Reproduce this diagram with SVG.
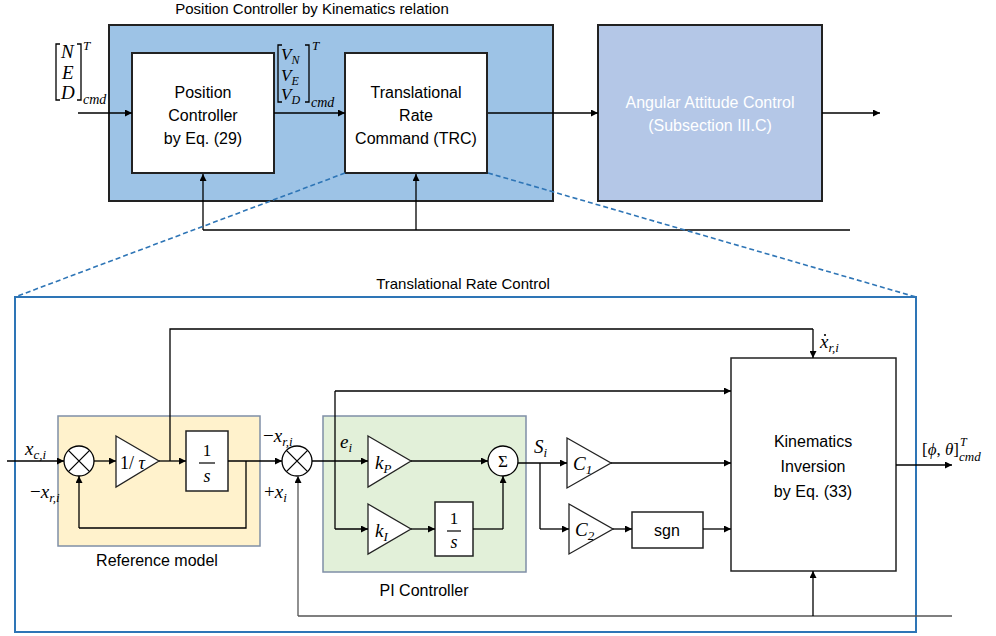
<svg xmlns="http://www.w3.org/2000/svg" width="996" height="636" viewBox="0 0 996 636">
<defs>
<marker id="ah" viewBox="0 0 10 10" refX="10" refY="5" markerWidth="7" markerHeight="7" markerUnits="userSpaceOnUse" orient="auto">
<path d="M0,0 L10,5 L0,10 z" fill="#000"/>
</marker>
</defs>
<style>
.lbl{font-family:"Liberation Sans",Arial,sans-serif;font-size:15px;fill:#000;text-anchor:middle}
.box{font-family:"Liberation Sans",Arial,sans-serif;font-size:16px;fill:#000;text-anchor:middle}
.m{font-family:"Liberation Serif","DejaVu Serif",serif;font-style:italic;font-size:19px;fill:#000}
.sub{font-size:13px}
.up{font-style:normal}
.ln{fill:none;stroke:#000;stroke-width:1.3}
.arr{fill:none;stroke:#000;stroke-width:1.3;marker-end:url(#ah)}
.blk{fill:#fff;stroke:#222;stroke-width:1.5}
.dash{fill:none;stroke:#2E75B6;stroke-width:1.6;stroke-dasharray:5,3}
</style>
<rect width="996" height="636" fill="#fff"/>

<!-- Top section -->
<text class="lbl" x="312" y="14">Position Controller by Kinematics relation</text>
<g id="outer-position">
<rect x="109" y="25" width="444" height="176" fill="#9DC3E6" stroke="#222" stroke-width="2"/>
</g>
<g id="position-controller">
<rect x="132" y="53" width="142" height="120" fill="#fff" stroke="#222" stroke-width="2"/>
<text class="box" x="203" y="98">Position</text>
<text class="box" x="203" y="121">Controller</text>
<text class="box" x="203" y="144">by Eq. (29)</text>
</g>
<g id="trc">
<rect x="345" y="53" width="142" height="120" fill="#fff" stroke="#222" stroke-width="2"/>
<text class="box" x="416" y="98">Translational</text>
<text class="box" x="416" y="121">Rate</text>
<text class="box" x="416" y="144">Command (TRC)</text>
</g>
<g id="angular">
<rect x="598" y="25" width="224" height="176" fill="#B4C7E7" stroke="#222" stroke-width="2"/>
<text class="box" x="710" y="108" style="fill:#fff">Angular Attitude Control</text>
<text class="box" x="710" y="131" style="fill:#fff">(Subsection III.C)</text>
</g>

<!-- matrices -->
<g id="ned-label">
<path class="ln" d="M60,44 H56 V100 H60 M77,44 H81 V100 H77"/>
<text class="m" x="61" y="58">N</text>
<text class="m" x="62" y="79">E</text>
<text class="m" x="61" y="99">D</text>
<text class="m sub" x="83" y="50">T</text>
<text class="m" x="83" y="104" style="font-size:14px">cmd</text>
</g>
<g id="v-label">
<path class="ln" d="M282,45 H278 V102 H282 M305,45 H309 V102 H305"/>
<text class="m" x="281" y="60" style="font-size:17px">V<tspan dy="4" style="font-size:12px">N</tspan></text>
<text class="m" x="281" y="81" style="font-size:17px">V<tspan dy="4" style="font-size:12px">E</tspan></text>
<text class="m" x="281" y="100" style="font-size:17px">V<tspan dy="4" style="font-size:12px">D</tspan></text>
<text class="m sub" x="312" y="50">T</text>
<text class="m" x="311" y="107" style="font-size:14px">cmd</text>
</g>

<!-- Bottom section frame -->
<text class="lbl" x="463" y="289">Translational Rate Control</text>
<g id="trc-detail">
<rect x="15" y="297" width="901" height="335" fill="none" stroke="#2E75B6" stroke-width="2"/>
</g>
<g id="reference-model">
<rect x="58" y="416" width="202" height="130" fill="#FFF2CC" stroke="#7F8FA6" stroke-width="1.5"/>
<text class="box" x="157" y="566">Reference model</text>
</g>
<g id="pi-controller">
<rect x="323" y="416" width="203" height="156" fill="#E2F0D9" stroke="#7F8FA6" stroke-width="1.5"/>
<text class="box" x="424" y="596">PI Controller</text>
</g>

<g id="sum1">
<circle cx="79" cy="461" r="15" fill="#fff" stroke="#000" stroke-width="1.3"/>
<path class="ln" d="M68.4,450.4 L89.6,471.6 M89.6,450.4 L68.4,471.6"/>
</g>
<g id="gain-tau">
<polygon points="116,436 159,461 116,487" fill="#fff" stroke="#222" stroke-width="1.3"/>
<text class="m up" x="120" y="469" style="font-size:18px">1/ <tspan style="font-style:italic">τ</tspan></text>
</g>
<g id="integrator1">
<rect class="blk" x="186" y="431" width="42" height="60"/>
<text class="m up" x="207" y="456" text-anchor="middle" style="font-size:17px">1</text>
<line x1="199" y1="463" x2="215" y2="463" stroke="#000" stroke-width="1.2"/>
<text class="m" x="207" y="482" text-anchor="middle" style="font-size:18px">s</text>
</g>
<g id="sum2">
<circle cx="297" cy="461" r="15" fill="#fff" stroke="#000" stroke-width="1.3"/>
<path class="ln" d="M286.4,450.4 L307.6,471.6 M307.6,450.4 L286.4,471.6"/>
</g>
<g id="gain-kp">
<polygon points="368,436 411,461 368,487" fill="#fff" stroke="#222" stroke-width="1.3"/>
<text class="m" x="375" y="469">k<tspan dy="4" style="font-size:13px">P</tspan></text>
</g>
<g id="gain-ki">
<polygon points="368,504 411,529 368,554" fill="#fff" stroke="#222" stroke-width="1.3"/>
<text class="m" x="375" y="537">k<tspan dy="4" style="font-size:13px">I</tspan></text>
</g>
<g id="integrator2">
<rect class="blk" x="435" y="502" width="38" height="54"/>
<text class="m up" x="454" y="524" text-anchor="middle" style="font-size:17px">1</text>
<line x1="447" y1="531" x2="461" y2="531" stroke="#000" stroke-width="1.2"/>
<text class="m" x="454" y="548" text-anchor="middle" style="font-size:18px">s</text>
</g>
<g id="sigma">
<circle cx="503" cy="461" r="15" fill="#fff" stroke="#000" stroke-width="1.3"/>
<text class="m up" x="503" y="467" text-anchor="middle" style="font-size:17px">Σ</text>
</g>
<g id="gain-c1">
<polygon points="567,438 611,463 567,488" fill="#fff" stroke="#222" stroke-width="1.3"/>
<text class="m" x="573" y="470">C<tspan dy="4" style="font-size:13px">1</tspan></text>
</g>
<g id="gain-c2">
<polygon points="569,504 613,529 569,554" fill="#fff" stroke="#222" stroke-width="1.3"/>
<text class="m" x="575" y="536">C<tspan dy="4" style="font-size:13px">2</tspan></text>
</g>
<g id="sgn">
<rect class="blk" x="632" y="512" width="71" height="36"/>
<text class="box" x="667" y="536">sgn</text>
</g>
<g id="kinematics-inversion">
<rect class="blk" x="731" y="358" width="165" height="213"/>
<text class="box" x="813" y="447">Kinematics</text>
<text class="box" x="813" y="472">Inversion</text>
<text class="box" x="813" y="497">by Eq. (33)</text>
</g>

<!-- Labels -->
<text class="m" x="25" y="455">x<tspan dy="4" style="font-size:13px">c,i</tspan></text>
<text class="m" x="30" y="498"><tspan style="font-style:normal">−</tspan>x<tspan dy="4" style="font-size:13px">r,i</tspan></text>
<text class="m" x="263" y="442"><tspan style="font-style:normal">−</tspan>x<tspan dy="4" style="font-size:13px">r,i</tspan></text>
<text class="m" x="264" y="498"><tspan style="font-style:normal">+</tspan>x<tspan dy="4" style="font-size:13px">i</tspan></text>
<text class="m" x="340" y="448">e<tspan dy="4" style="font-size:13px">i</tspan></text>
<text class="m" x="534" y="453">S<tspan dy="4" style="font-size:13px">i</tspan></text>
<text class="m" x="820" y="348">x<tspan dy="4" style="font-size:13px">r,i</tspan></text>
<circle cx="825" cy="335" r="1.1" fill="#000"/>
<text class="m" x="922" y="455" style="font-size:17px"><tspan style="font-style:normal">[</tspan>ϕ<tspan style="font-style:normal">, </tspan>θ<tspan style="font-style:normal">]</tspan></text>
<text class="m" x="960" y="446" style="font-size:12px">T</text>
<text class="m" x="959" y="461" style="font-size:13px">cmd</text>

<!-- Connectors -->
<g id="connectors">
<!-- top -->
<line class="arr" x1="78" y1="113" x2="132" y2="113"/>
<line class="arr" x1="274" y1="113" x2="345" y2="113"/>
<line class="arr" x1="488" y1="113" x2="598" y2="113"/>
<line class="arr" x1="822" y1="113" x2="880" y2="113"/>
<polyline class="ln" points="850,230 203,230"/>
<line class="arr" x1="203" y1="230" x2="203" y2="174"/>
<line class="arr" x1="416" y1="230" x2="416" y2="174"/>
<line class="dash" x1="345" y1="173" x2="15" y2="297"/>
<line class="dash" x1="488" y1="173" x2="916" y2="297"/>
<!-- bottom -->
<line class="arr" x1="7" y1="461" x2="64" y2="461"/>
<line class="arr" x1="94" y1="461" x2="116" y2="461"/>
<line class="arr" x1="159" y1="461" x2="186" y2="461"/>
<polyline class="ln" points="170,461 170,329 813,329"/>
<line class="arr" x1="813" y1="329" x2="813" y2="358"/>
<line class="arr" x1="228" y1="461" x2="282" y2="461"/>
<polyline class="ln" points="246,461 246,528 79,528"/>
<line class="arr" x1="79" y1="528" x2="79" y2="476"/>
<line class="arr" x1="312" y1="461" x2="368" y2="461"/>
<line class="arr" x1="411" y1="461" x2="488" y2="461"/>
<polyline class="ln" points="335,461 335,391"/>
<line class="arr" x1="335" y1="391" x2="731" y2="391"/>
<polyline class="ln" points="335,461 335,529"/>
<line class="arr" x1="335" y1="529" x2="368" y2="529"/>
<line class="arr" x1="411" y1="529" x2="435" y2="529"/>
<polyline class="ln" points="473,529 503,529"/>
<line class="arr" x1="503" y1="529" x2="503" y2="476"/>
<line class="arr" x1="518" y1="463" x2="567" y2="463"/>
<polyline class="ln" points="540,463 540,529"/>
<line class="arr" x1="540" y1="529" x2="569" y2="529"/>
<line class="arr" x1="613" y1="529" x2="632" y2="529"/>
<line class="arr" x1="703" y1="529" x2="731" y2="529"/>
<line class="arr" x1="611" y1="463" x2="731" y2="463"/>
<line class="arr" x1="896" y1="465" x2="952" y2="465"/>
<polyline points="952,616 298,616" fill="none" stroke="#555" stroke-width="1.5"/>
<line class="arr" x1="298" y1="616" x2="298" y2="476" style="stroke:#555"/>
<line class="arr" x1="813" y1="616" x2="813" y2="571"/>
</g>
</svg>
